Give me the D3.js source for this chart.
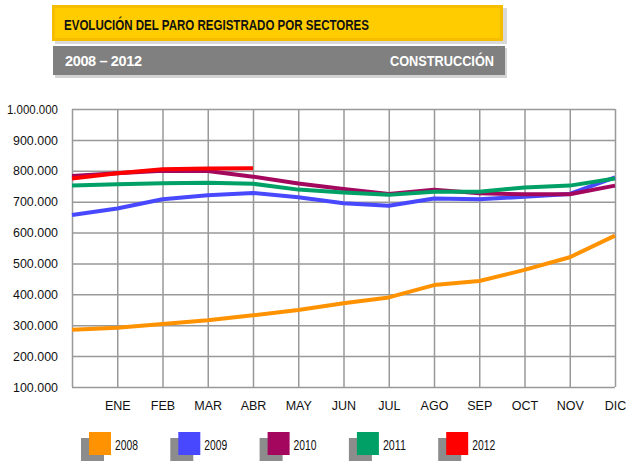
<!DOCTYPE html>
<html><head><meta charset="utf-8">
<script src="https://cdn.jsdelivr.net/npm/d3@7"></script>
<style>body{margin:0;background:#fff}svg{display:block}</style>
</head><body>
<svg id="c" width="640" height="466"></svg>
<script>
// Data
const months = ["ENE","FEB","MAR","ABR","MAY","JUN","JUL","AGO","SEP","OCT","NOV","DIC"];
const yTicks = [100000,200000,300000,400000,500000,600000,700000,800000,900000,1000000];
const years = ["2008","2009","2010","2011","2012"];
const colors = ["#FF9200","#4848FF","#A3075E","#00A066","#FF0000"];
// 13 points: start of year (left edge) then ENE..DIC
const s2008 = [285000,292000,304000,316000,332000,349000,371000,390000,430000,443000,479000,520000,590000];
const s2009 = [657000,678000,708000,721000,728000,714000,695000,687000,710000,708000,716000,725000,779000];
const s2010 = [783000,792000,800000,799000,781000,759000,741000,725000,739000,727000,724000,724000,752000];
const s2011 = [752000,756000,760000,761000,758000,739000,730000,722000,732000,732000,746000,752000,775000];
const s2012 = [775000,792000,805000,807000,808000];
const series = [s2008,s2009,s2010,s2011,s2012];

const svg = d3.select("#c");
const L = 72, R = 615, T = 109, B = 387;
const x = d3.scaleLinear().domain([0,12]).range([L,R]);
const y = d3.scaleLinear().domain([100000,1000000]).range([B,T]);
const loc = d3.formatLocale({decimal:",",thousands:".",grouping:[3],currency:["","€"]});
const fmt = loc.format(",d");
const FF = "Liberation Sans, Arial, sans-serif";

// Header
const hdr = svg.append("g");
hdr.append("rect").attr("x",55).attr("y",8).attr("width",452).attr("height",36).attr("fill","#d9d9d9");
hdr.append("rect").attr("x",52).attr("y",5).attr("width",451).attr("height",36).attr("fill","#F5BC00");
hdr.append("rect").attr("x",55).attr("y",8).attr("width",445).attr("height",30).attr("fill","#FFCC00");
hdr.append("text").attr("x",64).attr("y",29.5).attr("font-family",FF)
  .attr("font-weight","bold").attr("font-size",15.5).attr("fill","#111")
  .attr("textLength",305).attr("lengthAdjust","spacingAndGlyphs")
  .text("EVOLUCIÓN DEL PARO REGISTRADO POR SECTORES");
hdr.append("rect").attr("x",55).attr("y",48).attr("width",452).attr("height",30).attr("fill","#d4d4d4");
hdr.append("rect").attr("x",53).attr("y",46).attr("width",452).attr("height",29).attr("fill","#808080");
hdr.append("text").attr("x",65).attr("y",66).attr("font-family",FF)
  .attr("font-weight","bold").attr("font-size",14.5).attr("fill","#fff")
  .attr("textLength",77).attr("lengthAdjust","spacing").text("2008 – 2012");
hdr.append("text").attr("x",494).attr("y",66).attr("text-anchor","end").attr("font-family",FF)
  .attr("font-weight","bold").attr("font-size",14.5).attr("fill","#fff")
  .attr("textLength",104).attr("lengthAdjust","spacingAndGlyphs").text("CONSTRUCCIÓN");

// Axes / grid
const gy = svg.append("g").attr("transform",`translate(${L},0)`)
  .call(d3.axisLeft(y).tickValues(yTicks).tickFormat(fmt).tickSize(-(R-L)).tickPadding(14));
gy.select(".domain").remove();
gy.selectAll("line").attr("stroke","#999").attr("stroke-width",1.5);
gy.selectAll("text").attr("font-family",FF).attr("font-size",13).attr("fill","#111")
  .attr("textLength",51).attr("lengthAdjust","spacingAndGlyphs");
gy.selectAll(".tick text").filter(d=>d<1000000).attr("textLength",45);

const gx = svg.append("g").attr("transform",`translate(0,${B})`)
  .call(d3.axisBottom(x).tickValues(d3.range(0,13)).tickFormat(i => i===0 ? "" : months[i-1]).tickSize(-(B-T)).tickPadding(14));
gx.select(".domain").remove();
gx.selectAll("line").attr("stroke","#999").attr("stroke-width",1.5);
gx.selectAll("text").attr("font-family",FF).attr("font-size",12.5).attr("fill","#111");

// Lines
const line = d3.line().x((d,i)=>x(i)).y(d=>y(d));
series.forEach((s,k)=>{
  svg.append("path").datum(s).attr("d",line).attr("fill","none")
    .attr("stroke",colors[k]).attr("stroke-width",4).attr("stroke-linejoin","round").attr("stroke-linecap","butt");
});

// Legend
const lg = svg.append("g");
years.forEach((yr,k)=>{
  const lx = 89 + k*89.3;
  lg.append("rect").attr("x",lx-8).attr("y",438).attr("width",23).attr("height",23).attr("fill","#8c8c8c");
  lg.append("rect").attr("x",lx).attr("y",432).attr("width",22).attr("height",23).attr("fill",colors[k]);
  lg.append("text").attr("x",lx+26).attr("y",450).attr("font-family",FF)
    .attr("font-size",15).attr("fill","#111").attr("textLength",23).attr("lengthAdjust","spacingAndGlyphs").text(yr);
});
</script>
</body></html>
